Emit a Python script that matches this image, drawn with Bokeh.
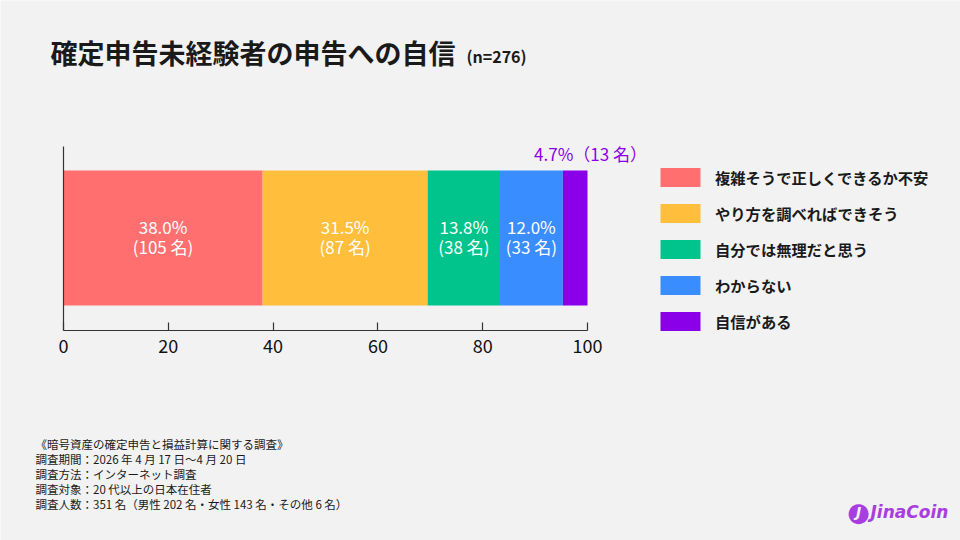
from bokeh.plotting import figure
from bokeh.models import (ColumnDataSource, Range1d, Label, Legend, LegendItem,
                          FixedTicker, LinearAxis)
from bokeh.core.properties import value
from bokeh.embed import file_html
from bokeh.resources import INLINE

# --- data -------------------------------------------------------------
categories = ["複雑そうで正しくできるか不安", "やり方を調べればできそう",
              "自分では無理だと思う", "わからない", "自信がある"]
percents = [38.0, 31.5, 13.8, 12.0, 4.7]
counts = [105, 87, 38, 33, 13]
colors = ["#ff6f6f", "#ffbe3c", "#00c48c", "#3a8dff", "#8a00e8"]
x_ticks = [0, 20, 40, 60, 80, 100]

title_text = "確定申告未経験者の申告への自信"
sample_text = "(n=276)"
notes = [
    "《暗号資産の確定申告と損益計算に関する調査》",
    "調査期間：2026 年 4 月 17 日〜4 月 20 日",
    "調査方法：インターネット調査",
    "調査対象：20 代以上の日本在住者",
    "調査人数：351 名（男性 202 名・女性 143 名・その他 6 名）",
]

FONT = "Noto Sans CJK JP"
BG = "#f2f2f2"
INK = "#1a1a1a"
W, H = 960, 540

# --- page geometry (canvas pixels) -------------------------------------
X0_PX, X100_PX = 63, 587          # where 0 % and 100 % sit
BAR_TOP_PX, BAR_BOT_PX = 170, 305  # bar band
AXIS_PX, YAXIS_TOP_PX = 330, 146   # x axis line, top of y axis line

px_per_pct = (X100_PX - X0_PX) / 100.0
bar_px = BAR_BOT_PX - BAR_TOP_PX
bar_mid_px = (BAR_TOP_PX + BAR_BOT_PX) / 2.0


def y_of(cy):
    """canvas row -> y data value (bar band is y in [-0.5, 0.5])"""
    return (bar_mid_px - cy) / bar_px


def sy(cy):
    """canvas row -> screen y measured from the bottom"""
    return H - cy


# stacked segment extents
lefts, rights = [], []
acc = 0.0
for v in percents:
    lefts.append(acc)
    acc += v
    rights.append(acc)
mids = [(l + r) / 2 for l, r in zip(lefts, rights)]
inner_labels = [f"{p:.1f}%\n({n} 名)" for p, n in zip(percents, counts)]

src = ColumnDataSource(dict(cat=categories, left=lefts, right=rights,
                            color=colors, y=[0] * len(categories)))

p = figure(width=W, height=H, output_backend="svg", toolbar_location=None,
           x_range=Range1d(-X0_PX / px_per_pct, (W - X0_PX) / px_per_pct),
           y_range=Range1d(y_of(H), y_of(0)),
           x_axis_type=None, y_axis_type=None,
           min_border=0)
p.background_fill_color = BG
p.border_fill_color = BG
p.outline_line_color = None
p.grid.visible = False

bars = p.hbar(y="y", left="left", right="right", height=1.0,
              color="color", line_color=None, source=src)

# labels inside the four wider segments
inner = ColumnDataSource(dict(x=mids[:4], y=[0] * 4, t=inner_labels[:4]))
p.text(x="x", y="y", text="t", source=inner, text_color="white",
       text_font=value(FONT), text_font_size="17px", text_align="center",
       text_baseline="middle", text_line_height=0.8, y_offset=-2)

# x axis pinned under the bar
xa = LinearAxis(fixed_location=y_of(AXIS_PX), bounds=(0, 100),
                ticker=FixedTicker(ticks=x_ticks))
xa.axis_line_color = "#333333"
xa.axis_line_width = 1.2
xa.major_tick_line_color = "#333333"
xa.major_tick_line_width = 1.2
xa.major_tick_in = 8
xa.major_tick_out = 0
xa.minor_tick_line_color = None
xa.major_label_text_font = FONT
xa.major_label_text_font_size = "18px"
xa.major_label_text_color = "#111111"
xa.major_label_standoff = 8
p.add_layout(xa, "below")

# y axis: bare line at 0 %
ya = LinearAxis(fixed_location=0, bounds=(y_of(AXIS_PX), y_of(YAXIS_TOP_PX)),
                ticker=FixedTicker(ticks=[]))
ya.axis_line_color = "#333333"
ya.axis_line_width = 1.2
ya.major_tick_line_color = None
ya.minor_tick_line_color = None
p.add_layout(ya, "left")

# small segment label above the bar
p.add_layout(Label(x=rights[-1], x_units="data", y=sy(153), y_units="screen",
                   x_offset=3,
                   text=f"{percents[-1]:.1f}%（{counts[-1]} 名）",
                   text_color=colors[-1], text_font=FONT, text_font_size="17px",
                   text_align="center", text_baseline="middle"))

# legend
items = [LegendItem(label=c, renderers=[bars], index=i) for i, c in enumerate(categories)]
legend = Legend(items=items, location=(655, sy(333)),
                glyph_width=50, glyph_height=24, spacing=12, label_standoff=10,
                label_text_font=FONT, label_text_font_size="15.3px",
                label_text_font_style="bold", label_text_color=INK,
                label_height=24, padding=0, margin=0,
                background_fill_alpha=0, border_line_color=None)
p.add_layout(legend, "center")

# title
p.add_layout(Label(x=50, y=sy(52), x_units="screen", y_units="screen",
                   text=title_text, text_font=FONT, text_font_size="27px",
                   text_font_style="bold", text_color=INK,
                   text_baseline="middle"))
p.add_layout(Label(x=466, y=sy(55), x_units="screen", y_units="screen",
                   text=sample_text, text_font=FONT, text_font_size="16px",
                   text_font_style="bold", text_color=INK,
                   text_baseline="middle"))

# survey notes
for i, line in enumerate(notes):
    p.add_layout(Label(x=35, y=sy(443 + i * 15), x_units="screen",
                       y_units="screen", text=line, text_font=FONT,
                       text_font_size="11.5px", text_color=INK,
                       text_baseline="middle"))

# brand mark
p.add_layout(Label(x=858, y=sy(511), x_units="screen", y_units="screen",
                   text="●", text_font="DejaVu Sans", text_font_size="26px",
                   text_color="#a83ee0", text_align="center",
                   text_baseline="middle"))
p.add_layout(Label(x=858, y=sy(511), x_units="screen", y_units="screen",
                   text="J", text_font="DejaVu Sans", text_font_size="14px",
                   text_font_style="bold italic", text_color=BG,
                   text_align="center", text_baseline="middle"))
p.add_layout(Label(x=870, y=sy(511), x_units="screen", y_units="screen",
                   text="JinaCoin", text_font="DejaVu Sans", text_font_size="17px",
                   text_font_style="bold italic", text_color="#a83ee0",
                   text_baseline="middle"))

open("out.html", "w").write(file_html(p, INLINE))
